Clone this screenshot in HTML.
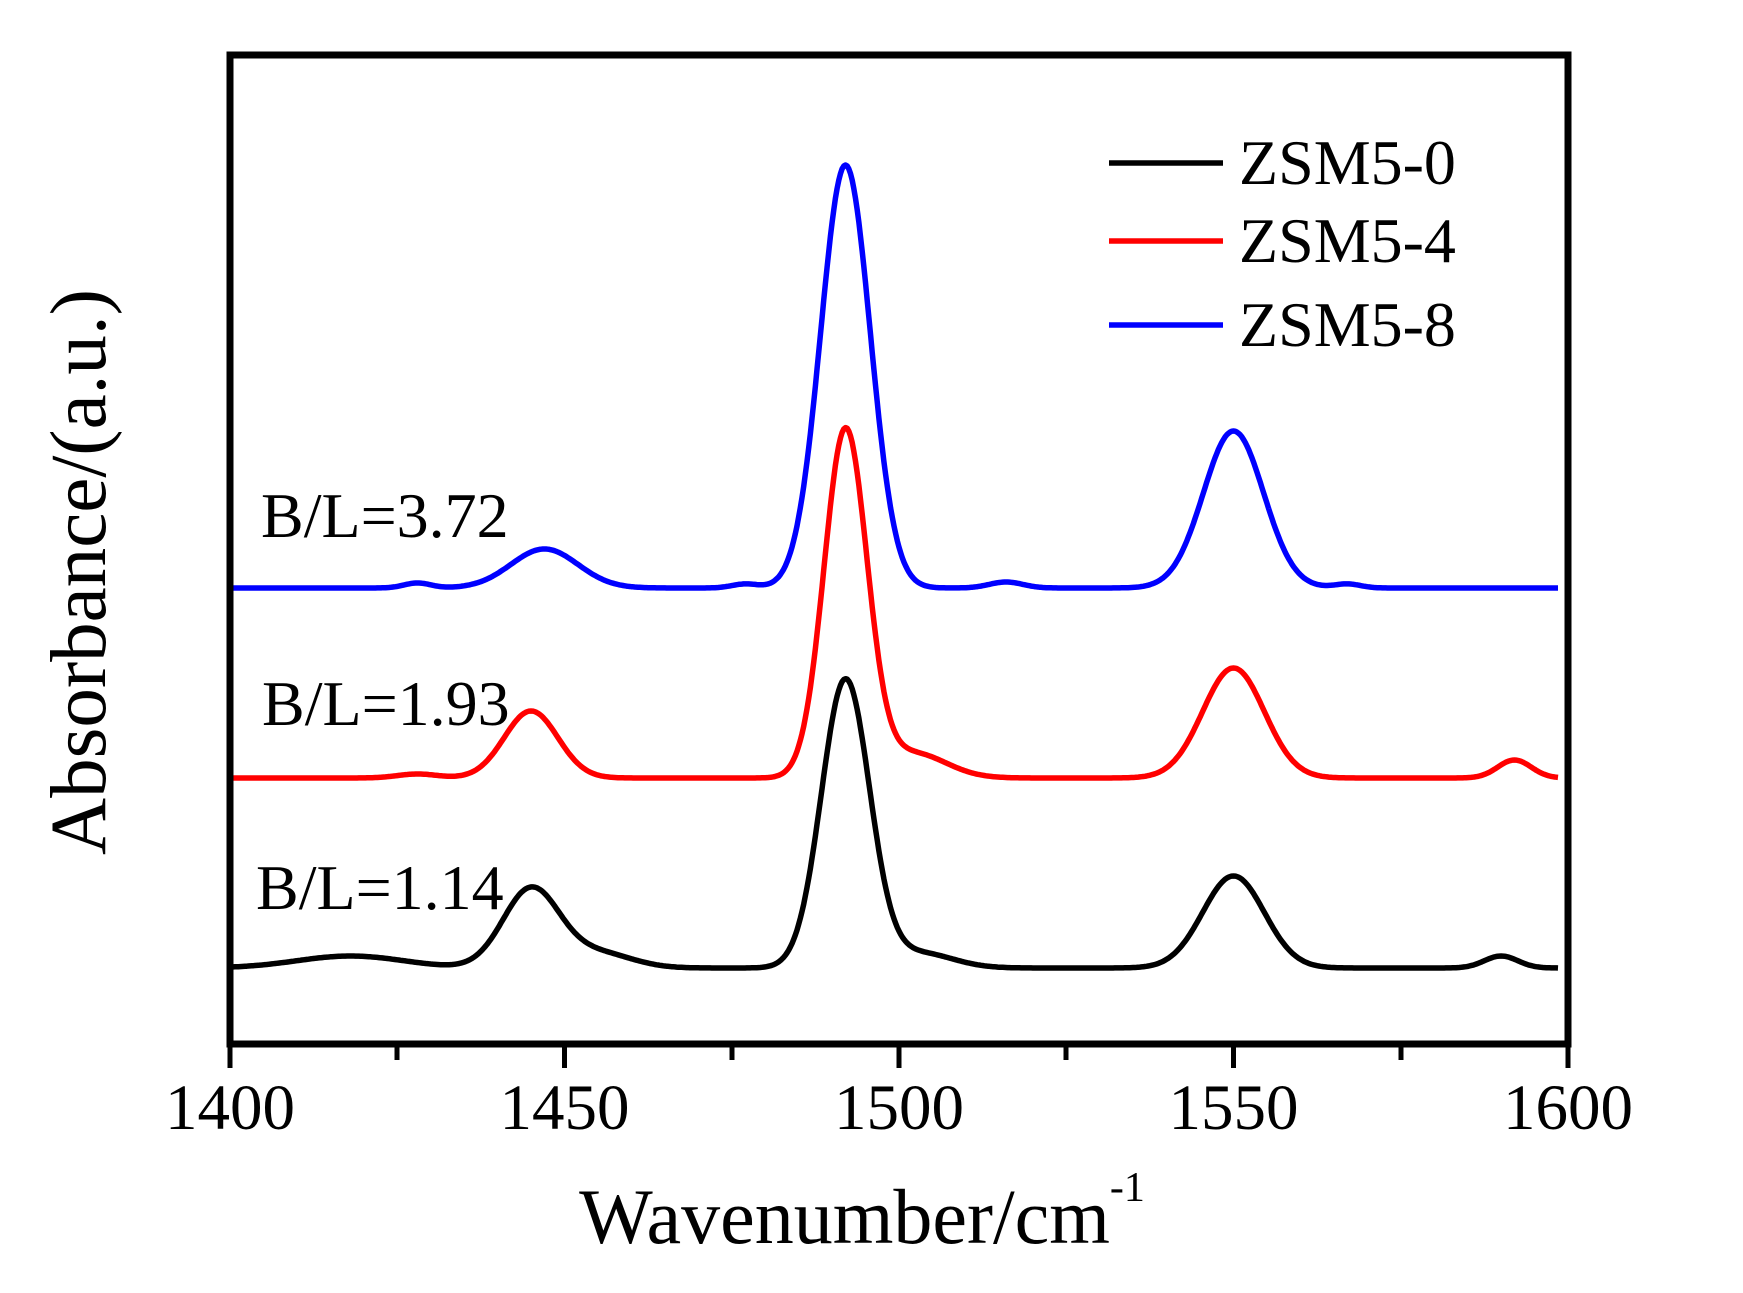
<!DOCTYPE html>
<html><head><meta charset="utf-8"><style>
html,body{margin:0;padding:0;background:#fff;}
svg{display:block;}
text{font-family:"Liberation Serif",serif;fill:#000;}
</style></head><body>
<svg id="s" width="1743" height="1293" viewBox="0 0 1743 1293" xmlns="http://www.w3.org/2000/svg">
<rect width="1743" height="1293" fill="#fff"/>
<g id="curves" fill="none" stroke-width="5.5" stroke-linejoin="round"></g>
<rect x="230" y="55" width="1338" height="989" fill="none" stroke="#000" stroke-width="7"/>
<g stroke="#000" stroke-width="5">
<line x1="230" y1="1044" x2="230" y2="1068"/>
<line x1="564.5" y1="1044" x2="564.5" y2="1068"/>
<line x1="899" y1="1044" x2="899" y2="1068"/>
<line x1="1233.5" y1="1044" x2="1233.5" y2="1068"/>
<line x1="1568" y1="1044" x2="1568" y2="1068"/>
<line x1="397" y1="1044" x2="397" y2="1060"/>
<line x1="732" y1="1044" x2="732" y2="1060"/>
<line x1="1066" y1="1044" x2="1066" y2="1060"/>
<line x1="1401" y1="1044" x2="1401" y2="1060"/>
</g>
<g font-size="65" text-anchor="middle">
<text x="230" y="1129">1400</text>
<text x="564.5" y="1129">1450</text>
<text x="899" y="1129">1500</text>
<text x="1233.5" y="1129">1550</text>
<text x="1568" y="1129">1600</text>
</g>
<text x="862" y="1243" font-size="78" text-anchor="middle">Wavenumber/cm<tspan font-size="42" dy="-42">-1</tspan></text>
<text transform="translate(105,572) rotate(-90)" font-size="79" text-anchor="middle">Absorbance/(a.u.)</text>
<g stroke-width="5.5">
<line x1="1109" y1="163" x2="1223" y2="163" stroke="#000"/>
<line x1="1109" y1="241" x2="1223" y2="241" stroke="#f00"/>
<line x1="1109" y1="325" x2="1223" y2="325" stroke="#00f"/>
</g>
<g font-size="64">
<text x="1239" y="184">ZSM5-0</text>
<text x="1239" y="262">ZSM5-4</text>
<text x="1239" y="346">ZSM5-8</text>
<text x="261" y="537">B/L=3.72</text>
<text x="262" y="725">B/L=1.93</text>
<text x="256" y="909">B/L=1.14</text>
</g>
</svg>
<script>
var series=[
 {c:"#00f",b:588,p:[[1492,423,3.7],[1550,157,4.5],[1447,39,5],[1428,5,2],[1516,6,2.5],[1567,4,2],[1477,4,2]]},
 {c:"#f00",b:778,p:[[1492,347,3.2],[1550,110,4.6],[1445,67,4.0],[1592,18,2.5],[1502,25,5],[1428,4,3]]},
 {c:"#000",b:968,p:[[1492,288,3.6],[1550,92,4.6],[1445,79,4.2],[1455,15,5],[1503,15,5],[1418,12,8],[1590,12,2.5]]}
];
var g=document.getElementById("curves"),ns="http://www.w3.org/2000/svg";
series.forEach(function(s){
 var d="";
 for(var w=1400.5;w<=1598.5;w+=0.25){
  var y=s.b;
  s.p.forEach(function(q){y-=q[1]*Math.exp(-Math.pow(w-q[0],2)/(2*q[2]*q[2]));});
  var x=230+(w-1400)*6.69;
  d+=(d?"L":"M")+x.toFixed(1)+" "+y.toFixed(1);
 }
 var p=document.createElementNS(ns,"path");
 p.setAttribute("d",d);p.setAttribute("stroke",s.c);
 g.appendChild(p);
});
</script>
</body></html>
